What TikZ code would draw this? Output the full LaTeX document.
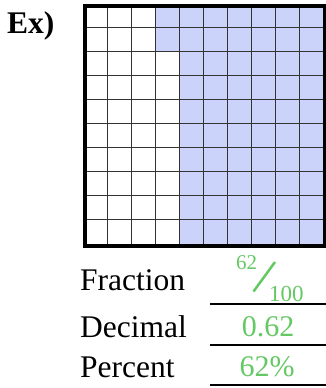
\documentclass[tikz,border=0pt]{standalone}
\usepackage{fontspec}
\setmainfont{Liberation Serif}
\definecolor{cellblue}{RGB}{204,211,250}
\definecolor{ansgreen}{RGB}{100,200,100}
\begin{document}
\begin{tikzpicture}[x=1pt,y=-1pt,
  lbl/.style={anchor=base west,inner sep=0pt,font=\fontsize{31.5}{36}\selectfont},
  ans/.style={anchor=base,inner sep=0pt,text=ansgreen,font=\fontsize{30}{34}\selectfont},
  rule/.style={line width=2pt},
  thin/.style={line width=1pt,black!80}]
\useasboundingbox (0,0) rectangle (326,388);
% shading: 62 cells
\fill[cellblue] (155,3.5) rectangle (323,51.5);
\fill[cellblue] (179,51.5) rectangle (323,243.5);
% grid lines
\foreach \i in {1,...,9}{
  \draw[thin] (83+24*\i,3.5) -- (83+24*\i,243.5);
  \draw[thin] (83,3.5+24*\i) -- (323,3.5+24*\i);
}
\node[draw,line width=4pt,minimum width=240pt,minimum height=240pt,inner sep=0pt,anchor=north west] (grid) at (83,3.5) {};
\node[lbl,font=\fontsize{31.5}{36}\selectfont\bfseries] (ex) at (7,33) {Ex)};
\node[lbl] (frac) at (80,290) {Fraction};
\node[lbl] (dec) at (80,337) {Decimal};
\node[lbl] (pct) at (80,377) {Percent};
% answers
\node[anchor=base west,inner sep=0pt,text=ansgreen,font=\fontsize{21}{24}\selectfont] (num) at (236,269) {62};
\node[anchor=base west,inner sep=0pt,text=ansgreen,font=\fontsize{23}{26}\selectfont] (den) at (269,301.5) {100};
\coordinate (s1) at (253.5,291.5);
\coordinate (s2) at (275,262);
\draw[ansgreen,line width=2.5pt] (s1) -- (s2);
\node[ans] (decv) at (268,336) {0.62};
\node[ans] (pctv) at (267,376) {62\%};
% answer rules
\coordinate (r1a) at (210,304); \coordinate (r1b) at (326,304);
\coordinate (r2a) at (210,345); \coordinate (r2b) at (326,345);
\coordinate (r3a) at (210,385); \coordinate (r3b) at (326,385);
\draw[rule] (r1a) -- (r1b);
\draw[rule] (r2a) -- (r2b);
\draw[rule] (r3a) -- (r3b);
\end{tikzpicture}
\end{document}
